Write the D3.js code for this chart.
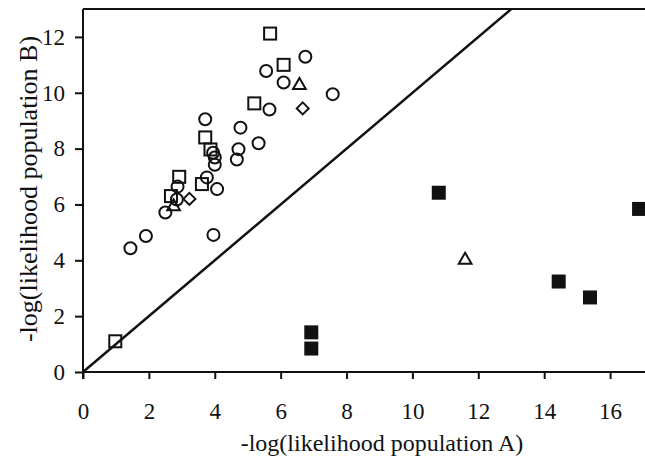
<!DOCTYPE html>
<html>
<head>
<meta charset="utf-8">
<script src="https://cdn.jsdelivr.net/npm/d3@7"></script>
<style>
  body { margin: 0; background: #fff; }
  svg { display: block; }
  .axis path, .axis line { stroke: #111; stroke-width: 2; }
</style>
</head>
<body>
<svg width="645" height="463"></svg>
<script>
// open circles
var circleX = [1.44, 1.91, 2.5, 2.85, 2.87, 3.71, 3.76, 3.95, 3.96, 4.0, 4.0, 4.07, 4.67, 4.72, 4.78, 5.33, 5.56, 5.66, 6.09, 6.75, 7.58];
var circleY = [4.43, 4.87, 5.71, 6.18, 6.64, 9.05, 6.97, 7.85, 4.91, 7.68, 7.42, 6.55, 7.61, 7.98, 8.75, 8.19, 10.78, 9.40, 10.37, 11.29, 9.95];
// open squares
var squareX = [0.98, 2.67, 2.92, 3.61, 3.71, 3.87, 5.2, 5.68, 6.09];
var squareY = [1.10, 6.30, 6.99, 6.73, 8.40, 7.97, 9.62, 12.12, 11.0];
// open triangles
var triX = [2.75, 6.57, 11.6];
var triY = [5.92, 10.27, 4.01];
// open diamonds
var diaX = [3.23, 6.67];
var diaY = [6.2, 9.44];
// filled squares
var fillX = [6.93, 6.93, 10.8, 14.44, 15.39, 16.88];
var fillY = [1.42, 0.84, 6.42, 3.24, 2.67, 5.84];

var xTicks = [0, 2, 4, 6, 8, 10, 12, 14, 16];
var yTicks = [0, 2, 4, 6, 8, 10, 12];

var font = "Liberation Serif, Times New Roman, serif";

var svg = d3.select("svg"),
    margin = {top: 9, right: 0, bottom: 91, left: 83},
    width = +svg.attr("width") - margin.left - margin.right,
    height = +svg.attr("height") - margin.top - margin.bottom,
    g = svg.append("g").attr("transform", "translate(" + margin.left + "," + margin.top + ")");

var x = d3.scaleLinear().domain([0, 17.06]).range([0, width]);
var y = d3.scaleLinear().domain([0, 13]).range([height, 0]);

// frame top line
g.append("line")
    .attr("x1", 0).attr("x2", width)
    .attr("y1", 0).attr("y2", 0)
    .attr("stroke", "#111").attr("stroke-width", 2);

g.append("g")
    .attr("class", "axis")
    .attr("transform", "translate(0," + height + ")")
    .call(d3.axisBottom(x).tickValues(xTicks).tickSize(7).tickSizeOuter(0).tickPadding(24))
    .call(function(a) {
      a.select(".domain").attr("d", "M0,0H" + width);
      a.selectAll("text").attr("font-family", font).attr("font-size", 23).attr("fill", "#111");
    });

g.append("g")
    .attr("class", "axis")
    .call(d3.axisLeft(y).tickValues(yTicks).tickSize(8).tickSizeOuter(0).tickPadding(10))
    .call(function(a) {
      a.select(".domain").attr("d", "M0,0V" + (height + 7));
      a.selectAll("text").attr("font-family", font).attr("font-size", 23).attr("fill", "#111");
    });

// y = x line
g.append("line")
    .attr("x1", x(0)).attr("y1", y(0))
    .attr("x2", x(13)).attr("y2", y(13))
    .attr("stroke", "#111").attr("stroke-width", 2.5);

var pts = g.append("g").attr("fill", "none").attr("stroke", "#111").attr("stroke-width", 2);

function pairs(xs, ys) { return xs.map(function(v, i) { return [v, ys[i]]; }); }

pts.selectAll(".c").data(pairs(circleX, circleY)).enter().append("circle")
    .attr("cx", function(d) { return x(d[0]); })
    .attr("cy", function(d) { return y(d[1]); })
    .attr("r", 6);

pts.selectAll(".s").data(pairs(squareX, squareY)).enter().append("rect")
    .attr("x", function(d) { return x(d[0]) - 6; })
    .attr("y", function(d) { return y(d[1]) - 6; })
    .attr("width", 12).attr("height", 12);

pts.selectAll(".t").data(pairs(triX, triY)).enter().append("path")
    .attr("d", d3.symbol(d3.symbolTriangle, 70))
    .attr("transform", function(d) { return "translate(" + x(d[0]) + "," + y(d[1]) + ")"; });

pts.selectAll(".d").data(pairs(diaX, diaY)).enter().append("path")
    .attr("d", "M0,-6L6,0L0,6L-6,0Z")
    .attr("transform", function(d) { return "translate(" + x(d[0]) + "," + y(d[1]) + ")"; });

g.append("g").selectAll("rect").data(pairs(fillX, fillY)).enter().append("rect")
    .attr("x", function(d) { return x(d[0]) - 7; })
    .attr("y", function(d) { return y(d[1]) - 7; })
    .attr("width", 14).attr("height", 14)
    .attr("fill", "#111");

svg.append("text")
    .attr("x", 382)
    .attr("y", 451)
    .attr("text-anchor", "middle")
    .attr("font-family", font)
    .attr("font-size", 24)
    .attr("fill", "#111")
    .text("-log(likelihood population A)");

svg.append("text")
    .attr("transform", "translate(37,189) rotate(-90)")
    .attr("text-anchor", "middle")
    .attr("font-family", font)
    .attr("font-size", 26)
    .attr("fill", "#111")
    .text("-log(likelihood population B)");
</script>
</body>
</html>
